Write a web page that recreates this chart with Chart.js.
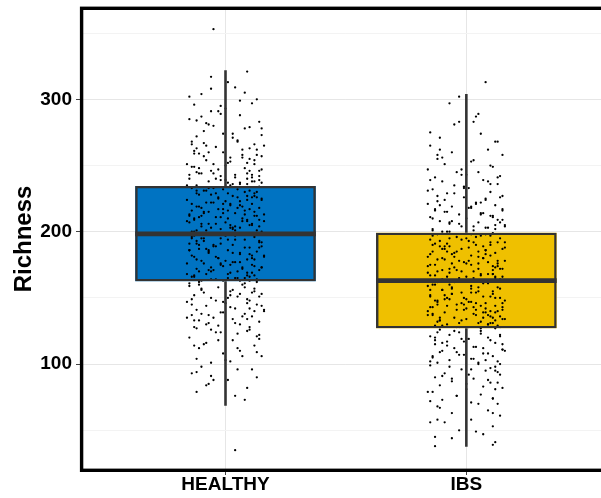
<!DOCTYPE html>
<html><head><meta charset="utf-8">
<script src="https://cdn.jsdelivr.net/npm/chart.js@4/dist/chart.umd.min.js"></script>
<style>html,body{margin:0;padding:0;overflow:hidden;background:#fff;width:601px;height:498px}canvas{display:block}</style>
</head><body>
<canvas id="c" width="612" height="498"></canvas>
<script>
// ---------- data ----------
const categories = ['HEALTHY', 'IBS'];
const q1 = [162.5, 127];
const median = [198.3, 163];
const q3 = [234.6, 199.3];
const whiskerLow = [68.5, 37.5];
const whiskerHigh = [322, 304];
const yTickValues = [100, 200, 300];
const yMinorValues = [50, 150, 250, 350];

const healthyJitter = [-0.05,0.09,-0.10,0.04,0.08,-0.15,0.01,0.13,
-0.13,0.11,-0.06,0.06,-0.15,0.14,-0.02,0.10,-0.09,0.03,-0.12,0.15,0.00,-0.07,
-0.14,0.12,-0.04,0.07,-0.11,0.15,0.02,-0.08,0.09,-0.16,0.05,-0.01,0.13,-0.12,0.10,-0.05,0.16,-0.09,
-0.13,0.08,-0.03,0.14,-0.10,0.04,0.11,-0.15,0.00,-0.07,0.15,0.06,-0.12,0.09,-0.02,0.12,-0.06,0.02,
-0.14,0.05,-0.08,0.13,0.01,-0.11,0.09,-0.03,0.15,-0.16,0.06,-0.06,0.11,0.02,-0.12,0.14,-0.01,0.08,-0.09,0.04,-0.15,0.12,-0.04,0.07,-0.13,0.16,0.00,-0.07,0.10,-0.10,0.03,-0.02,0.13,-0.14,0.06,
-0.05,0.10,-0.12,0.03,0.15,-0.08,0.07,-0.03,0.12,-0.15,0.01,0.09,-0.10,0.14,-0.06,0.04,-0.16,
0.11,-0.01,0.08,-0.11,0.02,
0.05,-0.13,0.12,-0.02,0.08,-0.09,0.15,-0.15,0.03,-0.05,0.10,-0.11,0.01,0.13,-0.07,0.06,-0.14,0.16,-0.03,0.09,-0.10,0.04,-0.16,0.11,-0.01,0.07,-0.12,0.14,-0.06,0.02,-0.08,0.12,-0.14,0.05,-0.04,0.10,-0.11,
0.00,-0.09,0.14,-0.05,0.08,-0.15,0.03,0.11,-0.12,0.06,-0.02,0.15,-0.07,0.09,-0.13,0.01,0.13,-0.10,0.04,-0.04,
-0.15,0.07,-0.03,0.12,-0.10,0.02,0.15,-0.13,0.05,-0.06,0.10,-0.16,0.00,0.13,-0.08,0.04,-0.12,0.16,-0.02,0.08,-0.14,0.11,-0.05,0.03,-0.11,0.14,-0.07,0.06,-0.09,0.09,
-0.13,0.10,-0.04,0.14,-0.15,0.03,-0.08,0.12,-0.11,0.06,-0.01,0.15,-0.12,0.02,-0.06,0.09,
-0.10,0.05,-0.14,0.13,0.01,-0.07,0.09,-0.12,0.04,0.08,
0.04,
0.03,-0.11,0.14,-0.02,0.07,-0.15,0.10,0.01,-0.08,0.12,-0.05,0.06,-0.13,0.09,-0.01,0.15,-0.10,0.04,-0.14,0.02,0.11,-0.06,-0.12,0.13,-0.04,0.08,0.00,-0.16,0.05,-0.09,0.14,-0.03,0.10,-0.07,0.06,-0.12,0.01,-0.02,0.15,-0.14,0.11,-0.08,0.03,0.07,-0.05,-0.11,0.12,0.09,-0.06,-0.13,
-0.07,0.12,0.02,-0.14,0.09,-0.01,0.15,-0.10,0.05,-0.04,0.13,-0.12,0.07,0.00,-0.16,0.10,-0.06,0.03,-0.09,0.14,-0.13,0.06,0.11,-0.03,-0.08,0.01,0.08,-0.15,0.16,-0.05,0.04,-0.11,0.12,-0.02,-0.13,0.09,0.14,-0.07,-0.14,0.06,0.02,-0.10,-0.04,0.11,0.05,-0.12,0.13,-0.01,0.07,-0.09,
0.10,-0.05,0.01,-0.13,0.14,-0.09,0.06,-0.02,0.12,-0.16,0.04,-0.07,0.15,0.08,-0.11,-0.03,0.11,-0.14,0.02,0.13,-0.08,0.07,-0.12,0.00,-0.06,0.16,0.05,-0.10,-0.15,0.09,0.03,-0.04,0.12,-0.01,0.14,-0.13,0.10,-0.09,0.06,-0.11,-0.02,0.08,0.15,-0.06,-0.14,0.01,0.11,-0.07,0.04,-0.12,
-0.04,0.13,-0.10,0.07,-0.12,0.02,0.10,-0.15,0.05,-0.01,0.14,-0.08,-0.13,0.09,-0.03,0.12,-0.06,0.16,0.00,-0.11,0.04,-0.14,0.11,-0.07,0.06,-0.09,0.15,-0.02,0.08,0.13,-0.16,0.01,-0.05,0.10,-0.12,0.03,0.14,-0.10,-0.01,0.07,-0.08,0.11,0.05,-0.14,-0.06,0.09,0.02,-0.13,0.12,-0.03];
const healthyValues = [353,321,304,309,305,302,313,300,
296,297,291,288,285,283,289,279,276,274,272,278,293,281,
268,266,264,262,259,257,256,254,252,251,268,260,258,263,255,251,265,267,
249,248,247,246,244,243,241,240,239,238,237,236,235,244,242,238,246,235,
233,232,231,230,229,228,227,226,225,224,223,222,221,220,219,218,217,216,215,214,213,212,211,210,209,208,207,206,205,204,203,202,201,200,199,
233,231,229,227,224,222,219,217,215,212,210,208,206,204,203,201,199,
226,221,213,211,205,
198,197,196,195,194,193,192,191,190,189,188,187,186,185,184,183,182,181,180,179,178,177,176,175,174,173,172,171,170,169,168,167,166,165,164,163,162,
197,195,193,190,188,186,184,182,179,177,175,173,171,169,167,165,164,163,194,181,
161,160,158,157,156,155,153,152,151,150,148,147,146,145,144,142,141,140,139,138,137,136,135,134,133,132,131,130,154,149,
128,126,124,122,120,118,116,114,112,110,108,106,104,102,101,125,
98,96,93,90,88,85,82,79,76,73,
35,
271,248,239,295,256,243,263,237,282,251,244,299,259,236,274,247,287,241,266,253,238,308,245,262,240,278,250,235,269,257,242,291,246,260,237,284,252,239,273,249,243,265,236,258,280,244,254,240,317,261,
215,229,203,221,209,232,200,218,226,206,212,231,199,223,208,217,228,202,214,234,210,220,205,225,201,216,230,207,213,222,204,219,227,211,200,224,209,233,216,203,221,212,229,206,218,201,226,214,208,231,
183,171,194,166,188,176,163,191,179,168,197,185,173,165,190,180,169,196,175,162,187,172,193,178,164,182,170,195,186,167,177,189,174,163,192,181,166,198,184,170,176,161,189,173,195,168,180,186,165,191,
148,121,157,136,94,143,128,159,112,139,151,84,133,146,118,155,126,141,103,160,131,149,96,137,153,115,144,124,158,109,135,150,88,142,127,156,119,138,147,106,130,154,123,145,91,134,152,114,140,129];

const ibsJitter = [0.08,-0.03,
-0.07,-0.03,0.03,0.04,-0.11,0.06,
0.12,-0.15,0.09,-0.06,0.15,-0.12,0.02,-0.09,0.11,-0.16,0.05,-0.02,0.14,-0.13,
0.07,-0.10,0.13,-0.05,0.01,-0.14,0.10,-0.08,0.15,-0.01,0.08,-0.12,0.04,-0.16,
0.12,-0.06,0.02,-0.13,0.15,-0.09,0.06,-0.03,0.10,-0.15,0.00,0.13,-0.11,0.05,-0.07,0.16,-0.02,0.09,-0.14,0.03,-0.08,0.11,
-0.12,0.06,-0.04,0.14,-0.15,0.01,0.10,-0.08,0.04,-0.11,0.16,-0.02,0.08,-0.14,0.12,-0.06,0.02,-0.16,0.07,-0.09,0.13,-0.01,0.05,-0.13,0.11,-0.05,0.15,-0.10,0.03,-0.07,0.09,-0.15,0.00,0.12,-0.03,0.06,-0.12,
0.10,-0.07,0.03,-0.14,0.15,-0.04,0.08,-0.10,0.01,0.13,-0.16,0.05,-0.02,0.11,-0.08,0.14,-0.11,0.07,-0.05,0.02,
0.09,-0.13,0.02,-0.06,0.14,-0.10,0.05,-0.02,0.11,-0.15,0.07,-0.08,0.00,0.16,-0.12,0.04,-0.04,0.12,-0.14,0.08,-0.01,0.13,-0.09,0.03,-0.16,0.10,-0.05,0.15,-0.11,0.06,-0.03,0.09,-0.13,0.01,0.12,
-0.07,0.13,-0.15,0.04,0.10,-0.09,0.02,-0.12,0.15,-0.04,0.07,-0.14,0.11,-0.02,0.05,-0.10,0.14,-0.06,0.08,-0.16,0.00,0.12,
-0.11,0.06,-0.03,0.14,-0.15,0.09,0.01,-0.08,0.12,-0.13,0.04,-0.05,0.15,-0.10,0.07,-0.01,0.11,-0.14,0.03,-0.07,0.13,-0.12,0.05,0.10,-0.04,
-0.15,0.12,-0.02,0.08,-0.09,0.14,-0.13,0.03,-0.06,0.10,-0.11,0.15,0.00,-0.14,0.06,-0.04,0.11,-0.10,0.02,0.13,
-0.12,0.09,-0.06,0.14,0.02,-0.15,0.11,-0.03,0.07,-0.13,0.12,-0.13,0.11,
-0.09,0.12,-0.02,0.06,-0.14,0.10,0.01,-0.11,0.15,-0.05,0.08,0.03,-0.13,0.13,-0.07,0.04,-0.15,0.11,-0.01,-0.10,0.14,-0.04,0.07,0.16,-0.12,0.02,0.09,-0.06,-0.16,0.12,0.05,-0.08,0.10,-0.03,-0.12,0.15,0.00,-0.14,0.13,0.06,-0.07,-0.01,0.11,-0.10,0.03,0.08,-0.15,0.14,-0.05,-0.11,
0.05,-0.12,0.13,-0.03,0.08,-0.15,0.02,0.11,-0.07,0.16,-0.10,0.00,0.14,-0.05,0.06,-0.13,0.09,-0.01,-0.09,0.12,0.04,-0.16,0.10,-0.06,-0.11,0.15,0.01,-0.04,0.07,-0.14,0.13,-0.08,0.03,0.10,-0.12,0.06,-0.02,-0.15,0.11,0.14,-0.09,0.00,0.08,-0.13,0.05,-0.07,0.16,-0.03,0.12,-0.10,
-0.08,0.11,0.02,-0.14,0.14,-0.03,0.07,-0.11,0.01,0.15,-0.06,0.09,-0.16,0.04,-0.01,0.12,-0.09,0.06,-0.13,0.10,-0.05,0.16,-0.10,0.03,0.13,-0.15,0.08,-0.02,-0.12,0.05,0.14,-0.07,0.00,0.11,-0.04,-0.14,0.09,0.06,-0.11,0.02,0.15,-0.08,-0.01,0.12,-0.06,0.07,-0.15,0.10,-0.12,0.04,
0.07,-0.10,0.14,-0.04,0.02,-0.13,0.11,-0.07,0.15,0.00,-0.12,0.09,-0.15,0.05,-0.02,0.13,-0.09,0.03,0.12,-0.14,0.06,-0.06,0.16,-0.11,0.10,-0.01,-0.16,0.08,-0.05,0.13,-0.08,0.04,0.14,-0.13,0.01,0.11,-0.03,-0.10,0.07,-0.12,0.15,0.02,-0.07,0.09,-0.15,0.05,-0.11,-0.06,0.12,0.00];
const ibsValues = [313,302,
297,283,283,287,271,274,
268,265,262,260,258,255,253,251,249,247,245,243,242,241,
239,238,236,235,233,232,230,229,227,226,224,223,222,221,
220,219,218,217,216,215,214,213,212,211,210,209,208,207,206,205,204,203,202,201,200,199,
198,197,196,195,194,193,192,191,190,189,188,187,186,185,184,183,182,181,180,179,178,177,176,175,174,173,172,171,170,169,168,167,166,165,164,163,162,
197,195,192,190,187,185,183,180,178,176,174,172,170,168,166,164,163,189,181,175,
161,160,159,158,157,156,155,154,153,152,151,150,149,148,147,146,145,144,143,142,141,140,139,138,137,136,135,134,133,132,131,130,129,128,127,
160,158,156,154,151,149,147,145,143,141,139,137,135,133,131,129,128,153,146,140,134,150,
126,125,124,122,121,120,119,117,116,115,113,112,111,110,108,107,106,105,104,103,102,101,100,118,109,
99,98,96,95,93,92,90,89,87,86,84,82,81,79,77,76,74,73,71,70,
68,65,63,61,58,56,53,50,47,45,41,38,39,
224,205,247,213,201,236,218,262,209,229,203,254,216,241,207,221,275,211,233,200,226,245,214,204,258,219,238,208,231,202,289,215,250,206,227,217,243,210,268,222,200,234,212,256,204,225,239,207,281,220,
181,170,192,165,186,175,198,168,189,178,164,195,172,184,167,191,177,163,187,173,196,169,182,176,193,166,188,171,180,197,174,185,165,190,179,168,194,183,171,163,189,176,198,167,185,172,192,178,166,187,
144,131,157,138,150,128,161,135,147,141,153,130,159,137,145,133,152,127,148,140,162,134,156,143,129,151,139,146,132,158,136,149,142,155,128,160,137,144,133,154,146,130,150,139,157,135,143,131,148,141,
112,91,121,76,104,118,63,98,115,85,124,108,72,101,119,94,56,113,81,106,123,89,110,67,97,117,79,103,125,86,114,49,100,120,92,74,107,116,83,58,111,96,122,88,102,70,109,44,95,119];

const groupValues = [healthyValues, ibsValues];
const groupJitter = [healthyJitter, ibsJitter];

// ---------- styles ----------
const boxColors = ['#0073C2', '#EFC000'];
const lineColor = '#333333';
const FONT = "'Liberation Sans', Arial, Helvetica, sans-serif";
const BOX_HALF = 0.375;

// ---------- datasets ----------
const datasets = [];
datasets.push({
  type: 'bar', order: 10, grouped: false,
  data: categories.map((c, i) => ({x: i + 1, y: [q1[i], q3[i]]})),
  backgroundColor: boxColors, borderWidth: 0,
  barPercentage: 0.75, categoryPercentage: 1
});
categories.forEach((c, i) => {
  datasets.push({
    type: 'scatter', order: 8,
    data: groupValues[i].map((v, k) => ({x: i + 1 + groupJitter[i][k], y: v})),
    pointRadius: 1.15, pointBackgroundColor: '#000', pointBorderWidth: 0,
    pointHoverRadius: 1.15
  });
  datasets.push({
    type: 'scatter', order: 6, showLine: true,
    data: [{x: i + 1, y: whiskerLow[i]}, {x: i + 1, y: q1[i]}],
    borderColor: lineColor, borderWidth: 2.6, pointRadius: 0
  });
  datasets.push({
    type: 'scatter', order: 6, showLine: true,
    data: [{x: i + 1, y: q3[i]}, {x: i + 1, y: whiskerHigh[i]}],
    borderColor: lineColor, borderWidth: 2.6, pointRadius: 0
  });
  datasets.push({
    type: 'scatter', order: 2, showLine: true,
    data: [{x: i + 1 - BOX_HALF, y: median[i]}, {x: i + 1 + BOX_HALF, y: median[i]}],
    borderColor: lineColor, borderWidth: 4.8, pointRadius: 0, borderCapStyle: 'butt'
  });
});
datasets.push({
  type: 'bar', order: 4, grouped: false,
  data: categories.map((c, i) => ({x: i + 1, y: [q1[i], q3[i]]})),
  backgroundColor: 'rgba(0,0,0,0)', borderColor: lineColor, borderWidth: 2.4,
  borderSkipped: false, barPercentage: 0.75, categoryPercentage: 1
});

const framePlugin = {
  id: 'frame',
  afterDraw(chart) {
    const a = chart.chartArea, ctx = chart.ctx;
    ctx.save();
    ctx.strokeStyle = '#000';
    ctx.lineWidth = 3.4;
    ctx.strokeRect(a.left + 0.6, a.top + 0.3, a.right - a.left, a.bottom - a.top);
    ctx.restore();
  }
};

new Chart(document.getElementById('c'), {
  type: 'scatter',
  data: {datasets},
  plugins: [framePlugin],
  options: {
    responsive: false, animation: false, devicePixelRatio: 1, events: [],
    layout: {padding: {top: 8, right: 1, left: 0, bottom: 0}},
    plugins: {legend: {display: false}, tooltip: {enabled: false}},
    scales: {
      x: {
        type: 'linear', min: 0.4, max: 2.6, offset: false,
        afterBuildTicks: s => { s.ticks = categories.map((c, i) => ({value: i + 1})); },
        afterFit: s => { s.height = 28; s.paddingLeft = 0; s.paddingRight = 0; },
        border: {display: false},
        grid: {offset: false, color: '#E6E6E6', lineWidth: 1, drawTicks: true, tickLength: 5, tickColor: '#444', tickWidth: 1},
        ticks: {
          callback: v => categories[Math.round(v) - 1] || '',
          color: '#000', padding: 0, maxRotation: 0, autoSkip: false,
          font: {family: FONT, size: 19, weight: 'bold', lineHeight: 1}
        }
      },
      y: {
        type: 'linear', min: 20, max: 369, offset: false, beginAtZero: false,
        afterBuildTicks: s => { s.ticks = yMinorValues.concat(yTickValues).sort((a, b) => a - b).map(v => ({value: v})); },
        afterFit: s => { s.width = 81; s.paddingTop = 0; s.paddingBottom = 0; },
        border: {display: false},
        grid: {
          color: ctx => (ctx.tick && yTickValues.includes(ctx.tick.value)) ? '#E6E6E6' : '#F3F3F3',
          lineWidth: 1, drawTicks: true, tickLength: 5, tickWidth: 1,
          tickColor: ctx => (ctx.tick && yTickValues.includes(ctx.tick.value)) ? '#444' : 'rgba(0,0,0,0)'
        },
        ticks: {
          callback: v => yTickValues.includes(v) ? String(v) : '',
          color: '#000', padding: 4, autoSkip: false,
          font: {family: FONT, size: 19, weight: 'bold'}
        },
        title: {
          display: true, text: 'Richness', color: '#000',
          font: {family: FONT, size: 24, weight: 'bold', lineHeight: 1.2},
          padding: {top: 10, bottom: 0}
        }
      }
    }
  }
});
</script>
</body></html>
